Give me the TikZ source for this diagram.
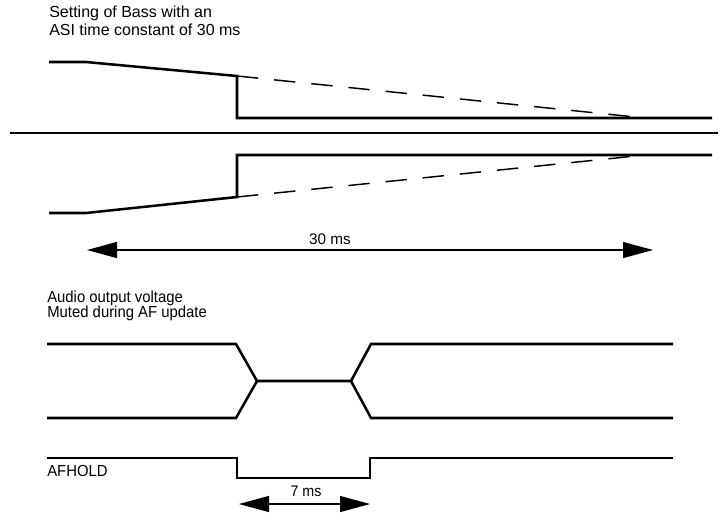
\documentclass[tikz,border=0pt]{standalone}
\usepackage{fontspec}
\usepackage{graphicx}
\setmainfont{Liberation Sans}
\usetikzlibrary{arrows.meta}
\newcommand{\narrowtxt}[1]{\scalebox{0.93}[1]{#1}}
\begin{document}
\begin{tikzpicture}[x=0.75pt,y=-0.75pt,
  wave/.style={line width=1.9pt, line join=miter},
  ghost/.style={line width=1.1pt, dash pattern=on 16pt off 12pt},
  sep/.style={line width=1.1pt},
  span/.style={line width=0.8pt, {Triangle[length=22.5pt,width=12pt]}-{Triangle[length=22.5pt,width=12pt]}},
  lbl/.style={font=\fontsize{12}{14}\selectfont, inner sep=0pt, anchor=base west},
  mid/.style={font=\fontsize{11.5}{13}\selectfont, inner sep=0pt, anchor=base}]
\useasboundingbox (0,0) rectangle (720,526);
% texts
\node[lbl] (t1) at (49,17) {Setting of Bass with an};
\node[lbl] (t2) at (49,35) {ASI time constant of 30 ms};
\node[lbl] (t3) at (47,302) {\narrowtxt{Audio output voltage}};
\node[lbl] (t4) at (47,317) {\narrowtxt{Muted during AF update}};
\node[lbl] (t5) at (47,476) {\narrowtxt{AFHOLD}};
\node[mid] (t6) at (330,244) {30 ms};
\node[mid] (t7) at (306,496) {\narrowtxt{7 ms}};
% coordinates
\coordinate (a1) at (49,62);
\coordinate (a2) at (86,62);
\coordinate (a3) at (237,76);
\coordinate (a4) at (237,118);
\coordinate (a5) at (712,118);
\coordinate (a6) at (645,118);
\coordinate (s1) at (10,133);
\coordinate (s2) at (718,133);
\coordinate (b1) at (49,213);
\coordinate (b2) at (86,213);
\coordinate (b3) at (237,197);
\coordinate (b4) at (237,155);
\coordinate (b5) at (712,155);
\coordinate (b6) at (645,155);
\coordinate (r1) at (87,250);
\coordinate (r2) at (653,250);
\coordinate (c1) at (47,344);
\coordinate (c2) at (236,344);
\coordinate (c3) at (257,381);
\coordinate (c4) at (351,381);
\coordinate (c5) at (371,344);
\coordinate (c6) at (673,344);
\coordinate (d1) at (47,418);
\coordinate (d2) at (236,418);
\coordinate (d5) at (371,418);
\coordinate (d6) at (673,418);
\coordinate (h1) at (47,458);
\coordinate (h2) at (237,458);
\coordinate (h3) at (237,478);
\coordinate (h4) at (370,478);
\coordinate (h5) at (370,458);
\coordinate (h6) at (673,458);
\coordinate (q1) at (239,504);
\coordinate (q2) at (370,504);
% drawing
\draw[wave] (a1) -- (a2) -- (a3) -- (a4) -- (a5);
\draw[ghost] (a3) -- (a6);
\draw[sep] (s1) -- (s2);
\draw[wave] (b1) -- (b2) -- (b3) -- (b4) -- (b5);
\draw[ghost] (b3) -- (b6);
\draw[span] (r1) -- (r2);
\draw[wave] (c1) -- (c2) -- (c3) -- (c4) -- (c5) -- (c6);
\draw[wave] (d1) -- (d2) -- (c3);
\draw[wave] (c4) -- (d5) -- (d6);
\draw[wave] (h1) -- (h2) -- (h3) -- (h4) -- (h5) -- (h6);
\draw[span] (q1) -- (q2);
\end{tikzpicture}
\end{document}
